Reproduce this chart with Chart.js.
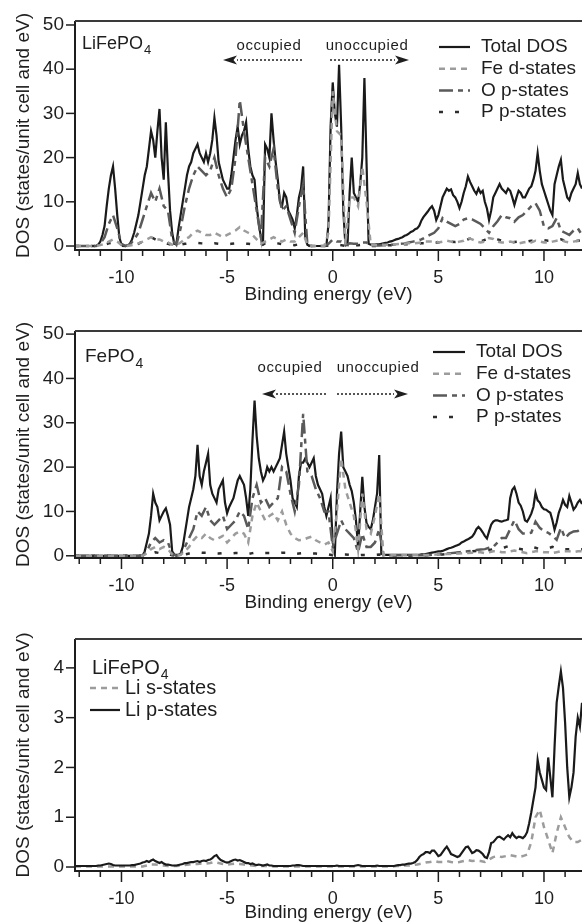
<!DOCTYPE html>
<html>
<head>
<meta charset="utf-8">
<title>DOS — LiFePO4 / FePO4</title>
<script src="https://cdn.jsdelivr.net/npm/chart.js@4.4.1/dist/chart.umd.min.js"></script>
<style>
  html, body { margin: 0; padding: 0; background: #fff; }
  body { width: 582px; height: 924px; position: relative; overflow: hidden; }
  canvas { position: absolute; left: 0; }
</style>
</head>
<body>
<canvas id="dosLFP" width="582" height="306" style="top:0"></canvas>
<canvas id="dosFP" width="582" height="308" style="top:306px"></canvas>
<canvas id="dosLi" width="582" height="310" style="top:614px"></canvas>
<script>
// ── energy axis (eV): total curves on a 0.1 eV grid, partial curves on 0.2 eV
const E_MIN = -12.2, E_MAX = 11.8;
const FINE = 0.1, COARSE = 0.2;
const energyTicks  = [-12,-11,-10,-9,-8,-7,-6,-5,-4,-3,-2,-1,0,1,2,3,4,5,6,7,8,9,10,11];
const energyLabels = [-10,-5,0,5,10];
const dosTicks = [0,10,20,30,40,50];
const liTicks  = [0,1,2,3,4];

// ── LiFePO4 (top panel)
const lfpTotal = [
  0,0,0,0,0,0,0,0,0,0,0,
  0.3,1,2.5,4.5,9,13,16,18,13,7,2,0.3,
  0,0,0.2,0.5,1.5,3,5,7,10,13,
  16,18,22,26,24,20,26,31,20,15,
  28,17,8,3,0.5,0.5,4,7,10,13,
  16,18,19,21,22,23,21,20,19,21,
  19,21,24,29,25,19,17,15,14,13,
  13,16,20,24,27,23,25,26,28,22,
  18,16,15,9,5,2,1,23,22,20,
  30,24,19,15,10,9,12,11,8,7,
  6,4,7,11,13,18,2,0.3,0,0,
  0,0,0,0,0,0,0,5,27,37,
  30,27,41,27,8,0.3,0.2,12,20,12,
  11,10,14,20,38,19,0.5,0.3,0.3,0.3,
  0.4,0.4,0.5,0.6,0.7,0.8,1,1.1,1.3,1.5,
  1.6,1.8,2,2.3,2.5,2.8,3.2,3.4,3.8,4,
  4.6,5.8,6.6,7.2,7.8,8.5,9,8,5.9,7,
  9,11,12,13,12.5,12.8,11.5,11,10,8.6,
  10,12,13.5,15.7,14.5,13.5,12.5,11.8,13,12,
  12.5,10,8.5,5.9,8,11,12,13,14,13,
  12.5,12,13,12.5,11,9.3,11,12.5,12,11,
  11,12,13,13.5,15,17,21,17,14,12.5,
  11,9.5,8,7,14,16,18,19.5,15,13,
  11,10.4,12,13,14,16.5,14,13
];
const lfpFe = [
  0,0,0,0,0,0,
  0.2,0.5,1,1.5,1,0.2,
  0,0.1,0.3,0.6,1,1.5,2,1.5,1.5,1,
  0.8,0.3,0.2,0.8,1.5,2,3,3.5,3,2.5,
  2.5,3,2.5,2,2.5,3,3.5,4.3,3.5,3,
  2.5,1.5,0.5,1,1.5,2,1.5,1,1.5,1,
  1,2,3,0.2,0,0,0,0,3,35,
  26,25,0.3,11,11,9,18,10,0.2,0.2,
  0.2,0.3,0.3,0.4,0.4,0.5,0.5,0.6,0.6,0.7,
  0.8,1,1,1.2,0.8,1,1.2,1,0.8,1,
  1.2,1.8,1.5,1,0.8,1,1.8,1.6,1,0.8,
  0.8,1,0.8,0.6,0.8,1,0.8,1.2,1,0.8,
  0.8,1,1.2,1.4,1,0.8,1,1.2,1
];
const lfpO = [
  0,0,0,0,0,0,
  0.5,2,5,7,4,0.5,
  0,0.3,1.5,3,6,9,12,10,13,9,
  8,1.5,0.3,4,9,13,16,18,17,16,
  17,20,16,13,11,13,20,33,26,20,
  14,8,2,20,18,22,13,8,9,6,
  3,9,14,0.3,0,0,0,0,0.5,1.5,
  1,1,0.1,0.6,0.5,0.5,0.8,0.8,0.1,0.1,
  0.1,0.2,0.2,0.3,0.4,0.5,0.6,0.8,1,1.2,
  1.5,2,2.5,3,4,6.3,5.5,5,4.5,5,
  6,6.3,6,5.5,5,4,3,4.5,5.6,7,
  6.5,6.3,5.5,6.5,7,8,9,9.7,8,4.4,
  4,4.5,6.3,3.5,3,2.5,3.5,4,2.5
];
const lfpP = [
  0,0,0,0,0,0,
  0.1,0.3,0.6,0.8,0.5,0.1,
  0,0.1,0.3,0.5,1,1.5,2,1.5,1,0.8,
  0.5,0.2,0.1,0.3,0.5,0.6,0.6,0.7,0.6,0.5,
  0.5,0.6,0.5,0.4,0.4,0.5,0.6,0.6,0.5,0.5,
  0.4,0.3,0.1,0.6,0.8,0.8,0.6,0.4,0.4,0.3,
  0.2,0.4,0.6,0.1,0,0,0,0,0.1,0.3,
  0.3,0.2,0,0.2,0.2,0.2,0.3,0.3,0,0,
  0.1,0.1,0.2,0.2,0.3,0.3,0.4,0.4,0.5,0.5,
  0.6,0.6,0.8,0.8,0.8,0.9,1,1,0.9,1,
  1.1,1.5,1.8,1.2,1,1.4,1.8,1.8,1.5,1.2,
  1,0.8,0.9,1,0.8,1,1.2,1.1,1.2,1.3,
  1.2,1.2,1.3,1.5,1.2,1,1,1.2,1.3
];

// ── FePO4 (middle panel)
const fpTotal = [
  0,0,0,0,0,0,0,0,0,0,0,0,0,0,0,0,0,0,0,0,0,0,0,0,0,0,0,0,0,0,0,0,0,
  1,3,5,9,14,12,11,8,9,10,
  10.7,9,7,1,0.3,0.2,0.2,0.5,2,5,
  8,11,13,15,18,25,18,16,19,21,
  23,16,14,13,12,15,16,17,12,9.6,
  11,12,13,15,17,18,17,16,13,9,
  15,26,35,27,22,19,17,18,20,19,
  20,19,20,21,22,25,28,23,20,17,
  13,12,11,18,21,21,22,21,20,21,
  22,18,16,15,14,11,9,11,13,3,
  0.5,14,23,28,20,19,18,16,14.6,12,
  8,2,10,17.8,11,7.4,6.5,6,8,11,
  14,22.7,0.5,0.2,0.2,0.2,0.2,0.2,0.2,0.2,
  0.2,0.2,0.2,0.2,0.2,0.2,0.2,0.2,0.2,0.2,
  0.2,0.3,0.3,0.4,0.5,0.6,0.7,0.8,0.9,1,
  1,1.1,1.3,1.5,1.7,1.8,2,2.2,2.4,2.6,
  3,3.2,3.5,3.7,4,4.3,5,6,6.5,6,
  5.3,4.5,3.9,5.5,7,7.7,8,8,7.8,7.7,
  7.9,8,8.2,13,14.9,15.5,14,12,11.3,10,
  8,7.7,8.5,9.5,11,14.2,12.5,12,11,10.5,
  10.4,10,9.7,8,5.9,7.5,9.7,11,12.6,11.5,
  11,13.5,12,10.4,11,12,12.6,11.7
];
const fpFe = [
  0,0,0,0,0,0,0,0,0,0,0,0,0,0,0,0,0,
  0.5,1.5,2,1.5,2,1.5,0.3,0,0.2,1,
  2,3.5,4.5,4,5,4,3.5,4,4.5,3,
  4,5,5.5,5,3,9,12,10,8,9,
  9.6,8,10,7,5,4,3.5,3.6,4,4.3,
  3.5,3,2.5,3,1,10,22,15,12,9,
  1.5,14,6,5,9,14,0.1,0.1,0.1,0.1,
  0.1,0.1,0.1,0.1,0.1,0.1,0.2,0.2,0.3,0.3,
  0.3,0.4,0.4,0.5,0.5,0.6,0.6,0.7,0.8,0.8,
  0.6,0.8,1,1,0.8,0.8,1,1.2,1,0.8,
  0.6,0.8,1,1,0.8,0.8,0.6,0.8,1,1,
  1,0.8,1,1
];
const fpO = [
  0,0,0,0,0,0,0,0,0,0,0,0,0,0,0,0,0,
  1,3,4,3,3.5,3,0.5,0,0.3,2,
  4,6,10,9,11,8,7,8,9,6,
  7,8,10,9,6,13,16,12,13,11,
  12,13,20,19,14,10,16,32,19,18,
  15,13,10,10,2,5,8,6,5,4,
  0.8,5,2,2,3,6,0.1,0.1,0.1,0.1,
  0.1,0.1,0.1,0.1,0.1,0.1,0.1,0.2,0.3,0.3,
  0.4,0.5,0.6,0.7,0.8,0.9,1,1.1,1.3,1.4,
  1.5,1.8,2,3,4,4,6,8,6,5,
  5,5.2,7.7,6.3,5.6,5.2,4.5,3.6,6.3,4,
  5,5.5,5.6,6.3
];
const fpP = [
  0,0,0,0,0,0,0,0,0,0,0,0,0,0,0,0,0,
  0.2,0.5,0.8,0.6,0.6,0.5,0.1,0,0.1,0.3,
  0.5,0.6,0.8,0.7,0.7,0.6,0.5,0.5,0.6,0.5,
  0.5,0.6,0.6,0.5,0.4,0.6,0.8,0.7,0.6,0.6,
  0.6,0.6,0.7,0.7,0.5,0.4,0.5,0.6,0.6,0.5,
  0.5,0.4,0.3,0.3,0.1,0.2,0.3,0.3,0.2,0.2,
  0.1,0.2,0.2,0.2,0.2,0.3,0,0,0,0,
  0,0,0,0.1,0.1,0.1,0.1,0.2,0.2,0.3,
  0.3,0.4,0.5,0.6,0.7,0.8,1,1,1.1,1.2,
  1.2,1.3,1.5,1.5,1.6,2,2.3,2,1.6,1.4,
  1.5,2,1.8,1.5,1.5,1.7,2,1.6,1.4,1.5,
  1.5,1.3,1.4,1.5
];

// ── Li partial DOS in LiFePO4 (bottom panel)
const liP = [
  0.02,0.02,0.02,0.02,0.02,0.02,0.02,0.02,0.02,0.02,
  0.02,0.03,0.03,0.04,0.05,0.06,0.07,0.06,0.04,0.03,
  0.03,0.03,0.03,0.03,0.03,0.03,0.03,0.04,0.04,0.05,
  0.06,0.07,0.09,0.1,0.12,0.1,0.13,0.15,0.12,0.1,
  0.08,0.1,0.07,0.05,0.05,0.04,0.03,0.03,0.03,0.04,
  0.05,0.06,0.08,0.08,0.09,0.1,0.1,0.11,0.12,0.1,
  0.12,0.13,0.12,0.14,0.15,0.18,0.22,0.24,0.18,0.14,
  0.12,0.1,0.09,0.1,0.12,0.14,0.15,0.13,0.14,0.12,
  0.1,0.08,0.08,0.06,0.07,0.05,0.04,0.05,0.04,0.03,
  0.04,0.05,0.03,0.03,0.02,0.02,0.02,0.02,0.02,0.02,
  0.02,0.02,0.02,0.03,0.03,0.04,0.04,0.03,0.02,0.02,
  0.02,0.02,0.02,0.02,0.02,0.02,0.02,0.02,0.02,0.02,
  0.02,0.02,0.02,0.02,0.03,0.02,0.02,0.02,0.02,0.02,
  0.02,0.02,0.02,0.03,0.04,0.03,0.02,0.02,0.02,0.02,
  0.02,0.02,0.02,0.03,0.02,0.02,0.02,0.02,0.02,0.02,
  0.02,0.02,0.03,0.04,0.04,0.05,0.05,0.06,0.07,0.07,
  0.08,0.1,0.14,0.2,0.24,0.26,0.3,0.3,0.28,0.33,
  0.33,0.28,0.22,0.24,0.3,0.36,0.41,0.34,0.26,0.24,
  0.22,0.2,0.22,0.28,0.34,0.4,0.41,0.35,0.28,0.3,
  0.34,0.33,0.3,0.26,0.2,0.18,0.3,0.48,0.5,0.55,
  0.6,0.61,0.58,0.55,0.6,0.64,0.6,0.68,0.62,0.58,
  0.61,0.6,0.58,0.62,0.7,0.88,1.1,1.35,1.6,2.15,
  1.9,1.75,1.6,1.55,2.2,1.8,1.4,2.4,3.3,3.63,
  3.93,3.6,2.9,2,1.4,1.6,1.9,2.62,3,2.82,
  3.3
];
const liS = [
  0.01,0.01,0.01,0.01,0.01,0.01,0.01,0.01,0.01,0.01,0.01,0.01,0.01,0.01,0.01,0.01,0.01,
  0.03,0.05,0.05,0.04,0.03,0.02,0.02,0.02,0.03,0.04,
  0.05,0.06,0.06,0.07,0.07,0.08,0.1,0.08,0.06,0.05,
  0.06,0.07,0.06,0.05,0.04,0.03,0.02,0.02,0.02,0.02,
  0.01,0.01,0.01,0.01,0.01,0.01,0.01,0.01,0.01,0.01,
  0.01,0.01,0.01,0.01,0.01,0.01,0.01,0.01,0.01,0.01,
  0.01,0.01,0.01,0.01,0.01,0.01,0.01,0.01,0.01,0.02,
  0.02,0.03,0.03,0.04,0.05,0.07,0.09,0.1,0.12,0.1,
  0.1,0.12,0.1,0.09,0.1,0.12,0.14,0.12,0.13,0.12,
  0.1,0.15,0.2,0.22,0.2,0.22,0.24,0.22,0.2,0.22,
  0.25,0.5,1,1.15,0.8,0.55,0.28,0.68,1,0.8,
  0.6,0.5,0.5,0.55
];

// ── styles
const FONT = '"Liberation Sans", Arial, Helvetica, sans-serif';
const INK = '#1e1e1e';
Chart.defaults.font.family = FONT;
Chart.defaults.color = INK;

const STYLE = {
  total: { borderColor: '#1a1a1a', borderWidth: 2.2, borderDash: [],            order: 4 },
  fe:    { borderColor: '#9c9c9c', borderWidth: 2.5, borderDash: [6, 5],        order: 1 },
  o:     { borderColor: '#5a5a5a', borderWidth: 2.5, borderDash: [14, 5, 5, 5], order: 2 },
  p:     { borderColor: '#2e2e2e', borderWidth: 2.5, borderDash: [4, 12],       order: 3 },
  liS:   { borderColor: '#9c9c9c', borderWidth: 2.5, borderDash: [6, 5],        order: 1 },
  liP:   { borderColor: '#1a1a1a', borderWidth: 2.2, borderDash: [],            order: 0 },
};

function onGrid(values, step) {
  return values.map((v, i) => ({ x: Math.round((E_MIN + i * step) * 100) / 100, y: v }));
}

function lineSet(label, values, step, style) {
  return Object.assign({ label, data: onGrid(values, step), pointRadius: 0, tension: 0, fill: false }, style);
}

function line(ctx, x1, y1, x2, y2) {
  ctx.beginPath(); ctx.moveTo(x1, y1); ctx.lineTo(x2, y2); ctx.stroke();
}

// ── frame, tick marks, labels, legend, arrows
const decorPlugin = {
  id: 'decor',
  afterDatasetsDraw(chart, args, o) {
    const { ctx, chartArea: a, scales: { x, y } } = chart;
    ctx.save();
    ctx.setLineDash([]);
    ctx.strokeStyle = INK;
    ctx.lineWidth = 2;
    ctx.beginPath();
    ctx.moveTo(a.left, a.top); ctx.lineTo(a.left, a.bottom + 1);
    ctx.moveTo(a.left - 1, a.bottom); ctx.lineTo(a.right, a.bottom);
    ctx.stroke();
    ctx.strokeStyle = '#3a3a3a';
    ctx.lineWidth = 1.8;
    line(ctx, a.left, a.top, a.right, a.top);

    ctx.strokeStyle = INK;
    ctx.lineWidth = 1.5;
    x.ticks.forEach(t => {
      const px = x.getPixelForValue(t.value);
      line(ctx, px, a.bottom, px, a.bottom + (energyLabels.includes(t.value) ? 11 : 6));
    });
    y.ticks.forEach(t => {
      const py = y.getPixelForValue(t.value);
      line(ctx, a.left - 9, py, a.left, py);
    });

    ctx.fillStyle = INK;
    ctx.textBaseline = 'middle';
    ctx.textAlign = 'left';

    // compound name with subscript
    if (o.formula) {
      const f = o.formula;
      ctx.font = `${f.size}px ${FONT}`;
      ctx.fillText(f.main, f.x, f.y);
      const w = ctx.measureText(f.main).width;
      ctx.font = `${Math.round(f.size * 0.72)}px ${FONT}`;
      ctx.fillText(f.sub, f.x + w + 1, f.y + f.size * 0.35);
    }

    // legend from the datasets themselves
    if (o.legend) {
      const L = o.legend;
      ctx.font = `${L.size}px ${FONT}`;
      chart.data.datasets.forEach((ds, i) => {
        const yy = L.y + i * L.dy;
        ctx.strokeStyle = ds.borderColor;
        ctx.lineWidth = ds.borderWidth;
        ctx.setLineDash(ds.borderDash || []);
        line(ctx, L.x, yy, L.x + L.len, yy);
        ctx.setLineDash([]);
        ctx.fillText(ds.label, L.x + L.len + L.gap, yy);
      });
    }

    // occupied / unoccupied
    (o.notes || []).forEach(n => {
      ctx.font = `15px ${FONT}`;
      if ('letterSpacing' in ctx) ctx.letterSpacing = '0.6px';
      ctx.textAlign = 'center';
      ctx.fillText(n.text, n.x, n.y);
      if ('letterSpacing' in ctx) ctx.letterSpacing = '0px';
    });
    (o.arrows || []).forEach(ar => {
      const dir = Math.sign(ar.to - ar.from);
      const head = 14;
      ctx.strokeStyle = INK;
      ctx.lineWidth = 1.5;
      ctx.setLineDash([2, 2]);
      line(ctx, ar.from, ar.y, ar.to - dir * head, ar.y);
      ctx.setLineDash([]);
      ctx.beginPath();
      ctx.moveTo(ar.to, ar.y);
      ctx.lineTo(ar.to - dir * head, ar.y - 4.5);
      ctx.lineTo(ar.to - dir * head * 0.75, ar.y);
      ctx.lineTo(ar.to - dir * head, ar.y + 4.5);
      ctx.closePath();
      ctx.fill();
    });
    ctx.restore();
  }
};

function makeChart(id, { datasets, yMin, yMax, yTicks, padTop, xAxisH, decor }) {
  return new Chart(document.getElementById(id), {
    type: 'line',
    data: { datasets },
    options: {
      responsive: false,
      animation: false,
      events: [],
      layout: { padding: { top: padTop, left: 0, right: 0, bottom: 0 } },
      plugins: { legend: { display: false }, tooltip: { enabled: false }, decor },
      scales: {
        x: {
          type: 'linear', min: E_MIN, max: E_MAX,
          grid: { display: false, drawTicks: false }, border: { display: false },
          afterBuildTicks: s => { s.ticks = energyTicks.map(value => ({ value })); },
          ticks: {
            autoSkip: false, maxRotation: 0, padding: 17,
            font: { size: 18 }, color: INK,
            callback: v => energyLabels.includes(v) ? String(v) : '',
          },
          title: { display: true, text: 'Binding energy (eV)', font: { size: 19 }, color: INK, padding: { top: 0, bottom: 0 } },
          afterFit: s => { s.height = xAxisH; s.paddingLeft = 0; s.paddingRight = 0; },
        },
        y: {
          min: yMin, max: yMax,
          grid: { display: false, drawTicks: false }, border: { display: false },
          afterBuildTicks: s => { s.ticks = yTicks.map(value => ({ value })); },
          ticks: { padding: 11, font: { size: 19 }, color: INK },
          title: { display: true, text: 'DOS (states/unit cell and eV)', font: { size: 19 }, color: INK, padding: { top: 12, bottom: 0 } },
          afterFit: s => { s.width = 75; s.paddingTop = 0; s.paddingBottom = 0; },
        },
      },
    },
    plugins: [decorPlugin],
  });
}

// ── top: LiFePO4
makeChart('dosLFP', {
  datasets: [
    lineSet('Total DOS', lfpTotal, FINE, STYLE.total),
    lineSet('Fe d-states', lfpFe, COARSE, STYLE.fe),
    lineSet('O p-states', lfpO, COARSE, STYLE.o),
    lineSet('P p-states', lfpP, COARSE, STYLE.p),
  ],
  yMin: -0.9, yMax: 50.9, yTicks: dosTicks, padTop: 21, xAxisH: 56,
  decor: {
    formula: { main: 'LiFePO', sub: '4', x: 82, y: 44, size: 18 },
    legend: { x: 439, y: 47, dy: 21.7, len: 31, gap: 11, size: 19 },
    notes: [{ text: 'occupied', x: 269, y: 46 }, { text: 'unoccupied', x: 367, y: 46 }],
    arrows: [{ from: 302, to: 223, y: 60 }, { from: 330, to: 409, y: 60 }],
  },
});

// ── middle: FePO4
makeChart('dosFP', {
  datasets: [
    lineSet('Total DOS', fpTotal, FINE, STYLE.total),
    lineSet('Fe d-states', fpFe, COARSE, STYLE.fe),
    lineSet('O p-states', fpO, COARSE, STYLE.o),
    lineSet('P p-states', fpP, COARSE, STYLE.p),
  ],
  yMin: -0.5, yMax: 50.7, yTicks: dosTicks, padTop: 25, xAxisH: 56,
  decor: {
    formula: { main: 'FePO', sub: '4', x: 85, y: 51, size: 19 },
    legend: { x: 433, y: 46, dy: 21.7, len: 32, gap: 11, size: 19 },
    notes: [{ text: 'occupied', x: 290, y: 62 }, { text: 'unoccupied', x: 378, y: 62 }],
    arrows: [{ from: 326, to: 262, y: 88 }, { from: 337, to: 408, y: 88 }],
  },
});

// ── bottom: Li s / p
makeChart('dosLi', {
  datasets: [
    lineSet('Li s-states', liS, COARSE, STYLE.liS),
    lineSet('Li p-states', liP, FINE, STYLE.liP),
  ],
  yMin: -0.08, yMax: 4.58, yTicks: liTicks, padTop: 25, xAxisH: 53,
  decor: {
    formula: { main: 'LiFePO', sub: '4', x: 92, y: 54, size: 20 },
    legend: { x: 90, y: 74, dy: 22, len: 30, gap: 5, size: 20 },
  },
});
</script>
</body>
</html>
